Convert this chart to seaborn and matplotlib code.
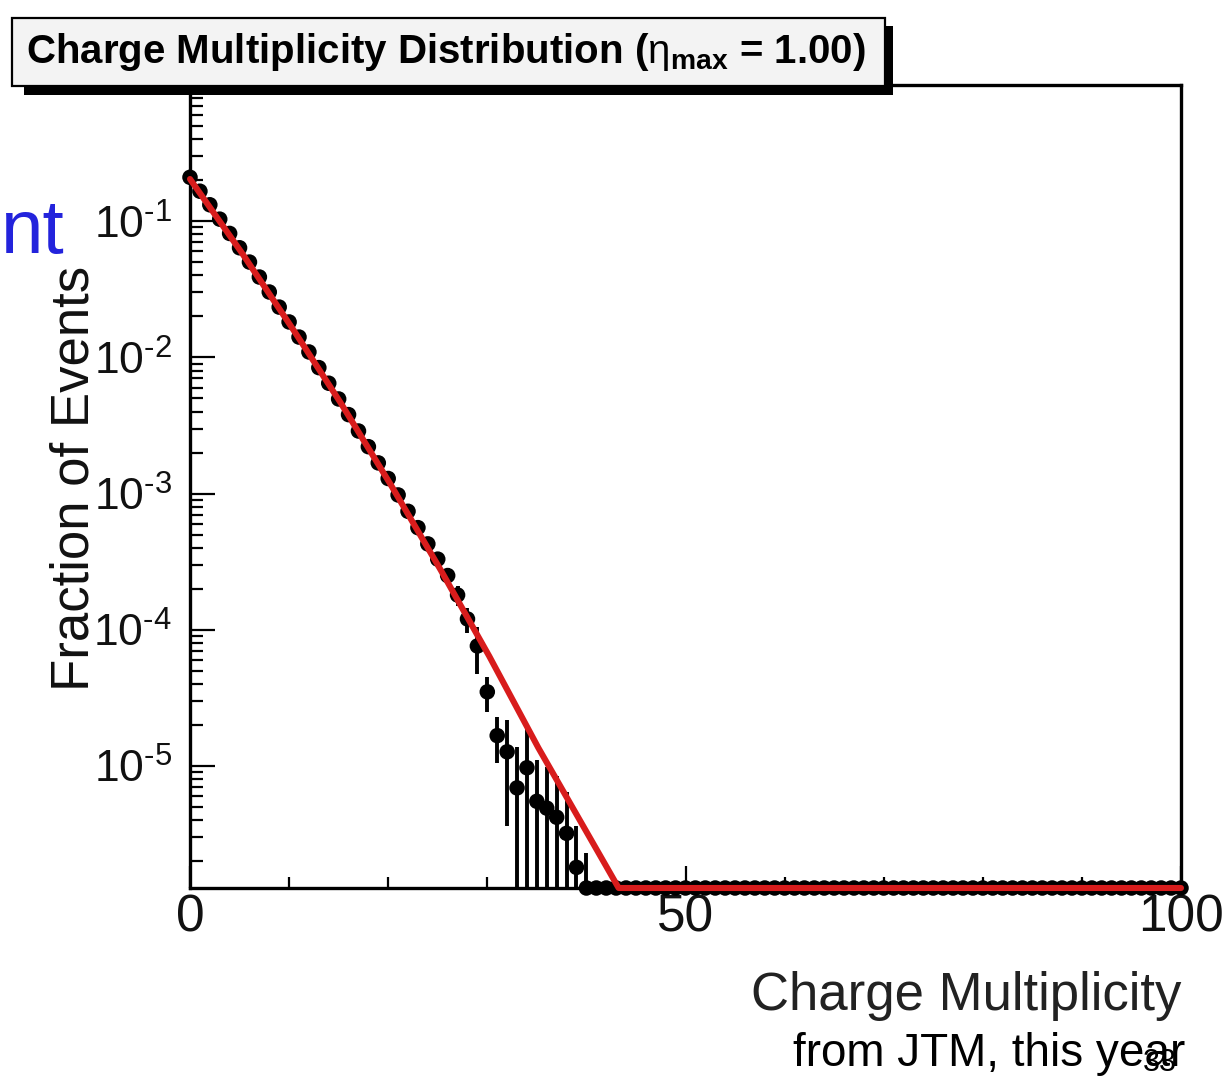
import numpy as np
import pandas as pd
import matplotlib
matplotlib.use("Agg")
import matplotlib.pyplot as plt
from matplotlib.patches import Rectangle
from matplotlib.ticker import FixedLocator, FuncFormatter, LogLocator, MultipleLocator, NullFormatter
import seaborn as sns

# ---- data -------------------------------------------------------------
multiplicity = list(range(0, 101))

fraction = [0.21, 0.166, 0.132, 0.1035, 0.0813, 0.0638, 0.0501, 0.0389, 0.0302, 0.0234,
            0.0182, 0.0141, 0.01096, 0.00841, 0.00646, 0.00495, 0.0038, 0.00288, 0.00221, 0.00168,
            0.00129, 9.77e-4, 7.41e-4, 5.62e-4, 4.27e-4, 3.3e-4, 2.5e-4, 1.8e-4, 1.2e-4, 7.6e-5,
            3.5e-5, 1.67e-5, 1.27e-5, 6.9e-6, 9.7e-6, 5.5e-6, 4.9e-6, 4.2e-6, 3.2e-6, 1.8e-6,
            1.15e-6] + [0.0] * 60

fraction_err = [1.0e-3, 9e-4, 8e-4, 7e-4, 6.4e-4, 5.6e-4, 5e-4, 4.4e-4, 3.9e-4, 3.4e-4,
                3e-4, 2.7e-4, 2.3e-4, 2.1e-4, 1.8e-4, 1.6e-4, 1.4e-4, 1.2e-4, 1.05e-4, 9.2e-5,
                8e-5, 7e-5, 6.1e-5, 5.3e-5, 4.6e-5, 4e-5, 3.5e-5, 3e-5, 2.5e-5, 2.9e-5,
                1.0e-5, 6.2e-6, 9.1e-6, 6.9e-6, 9.7e-6, 5.5e-6, 4.9e-6, 4.2e-6, 3.2e-6, 1.8e-6,
                1.15e-6] + [0.0] * 60

# fitted curve, sampled at a few multiplicities
fit_x = [0, 5, 10, 15, 20, 25, 30, 35, 40, 45, 50, 100]
fit_y = [0.204, 0.062, 0.0178, 4.9e-3, 1.25e-3, 3.0e-4, 6.8e-5, 1.42e-5, 3.3e-6,
         7.6e-7, 1.5e-7, 1e-13]

y_min, y_max = 1.27e-6, 1.0
x_min, x_max = 0, 100

# ---- style ------------------------------------------------------------
sns.set_theme(style="white")
plt.rcParams["font.family"] = ["Liberation Sans", "DejaVu Sans"]
plt.rcParams["mathtext.fontset"] = "custom"
plt.rcParams["mathtext.rm"] = "Liberation Sans"
plt.rcParams["mathtext.bf"] = "Liberation Sans:bold"
plt.rcParams["mathtext.it"] = "Liberation Sans:italic"

W, H = 1224, 1079
fig = plt.figure(figsize=(W / 100, H / 100), dpi=100)
fig.patch.set_facecolor("white")

ax = fig.add_axes([190 / W, 1 - 888 / H, (1181 - 190) / W, (888 - 85) / H])
ax.set_facecolor("white")

df = pd.DataFrame({"mult": multiplicity, "frac": fraction, "err": fraction_err})
df["shown"] = df["frac"].where(df["frac"] >= y_min, y_min)
lo_end = np.maximum(df["frac"] - df["err"], y_min)
hi_end = df["frac"] + df["err"]
has_bar = df["err"] > 0

ax.errorbar(df.loc[has_bar, "mult"], df.loc[has_bar, "shown"],
            yerr=[(df["shown"] - lo_end)[has_bar], (hi_end - df["shown"])[has_bar]],
            fmt="none", ecolor="black", elinewidth=2.8, capsize=0, zorder=2)

sns.scatterplot(data=df, x="mult", y="shown", ax=ax, color="black", s=125,
                edgecolor="none", linewidth=0, zorder=3, clip_on=False, legend=False)

# fit curve drawn piecewise in log space, held at the frame floor
grid = np.linspace(x_min, x_max, 2001)
log_fit = np.interp(grid, fit_x, np.log10(fit_y))
fit_df = pd.DataFrame({"mult": grid, "fit": np.maximum(10 ** log_fit, y_min)})
sns.lineplot(data=fit_df, x="mult", y="fit", ax=ax, color="#d81c1c", linewidth=4.4,
             estimator=None, sort=False, zorder=4, clip_on=False, legend=False)

ax.set_yscale("log")
ax.set_xlim(x_min, x_max)
ax.set_ylim(y_min, y_max)


def decade_label(val, pos):
    exp = int(round(np.log10(val)))
    sign = "\u2010" if exp < 0 else ""
    return r"$10^{%s%d}$" % (sign, abs(exp))


ax.yaxis.set_major_locator(FixedLocator([1e-5, 1e-4, 1e-3, 1e-2, 1e-1]))
ax.yaxis.set_major_formatter(FuncFormatter(decade_label))
ax.yaxis.set_minor_locator(LogLocator(base=10, subs=np.arange(2, 10), numticks=20))
ax.yaxis.set_minor_formatter(NullFormatter())
ax.xaxis.set_major_locator(FixedLocator([0, 50, 100]))
ax.xaxis.set_minor_locator(MultipleLocator(10))

ax.tick_params(axis="both", which="both", direction="in", top=False, right=False,
               left=True, bottom=True, color="black", width=1.6)
ax.tick_params(axis="y", which="major", length=18, pad=13, labelsize=32)
ax.tick_params(axis="y", which="minor", length=9)
ax.tick_params(axis="x", which="major", length=16, pad=4, labelsize=37)
ax.tick_params(axis="x", which="minor", length=8)
for lab in ax.get_xticklabels() + ax.get_yticklabels():
    lab.set_color("#111111")

for sp in ax.spines.values():
    sp.set_color("black")
    sp.set_linewidth(2.4)
    sp.set_visible(True)
ax.set_xlabel("")
ax.set_ylabel("")

# axis titles
fig.text(75 / W, 1 - 478 / H, "Fraction of Events", rotation=90, ha="center",
         va="center", fontsize=38, color="#111111")
fig.text(1181 / W, 1 - 1010 / H, "Charge Multiplicity", ha="right", va="baseline",
         fontsize=38, color="#222222")

# title box with drop shadow
fig.add_artist(Rectangle((24 / W, 1 - 95 / H), (893 - 24) / W, (95 - 26) / H,
                         transform=fig.transFigure, facecolor="black",
                         edgecolor="none", zorder=10))
fig.add_artist(Rectangle((12 / W, 1 - 86 / H), (885 - 12) / W, (86 - 18) / H,
                         transform=fig.transFigure, facecolor="#f3f3f3",
                         edgecolor="black", linewidth=1.6, zorder=11))
fig.text(446 / W, 1 - 63 / H,
         r"Charge Multiplicity Distribution ($\mathrm{\eta}_{\mathbf{max}}$ = 1.00)",
         ha="center", va="baseline", fontsize=29, fontweight="bold",
         color="black", zorder=12)

# slide annotations
fig.text(1 / W, 1 - 253 / H, "nt", ha="left", va="baseline", fontsize=55,
         color="#2323dc")
fig.text(1185 / W, 1 - 1066 / H, "from JTM, this year", ha="right", va="baseline",
         fontsize=33, color="black")
fig.text(1143 / W, 1 - 1048 / H, "33", ha="left", va="top", fontsize=22,
         color="black")

fig.savefig("out.png", dpi=100)
